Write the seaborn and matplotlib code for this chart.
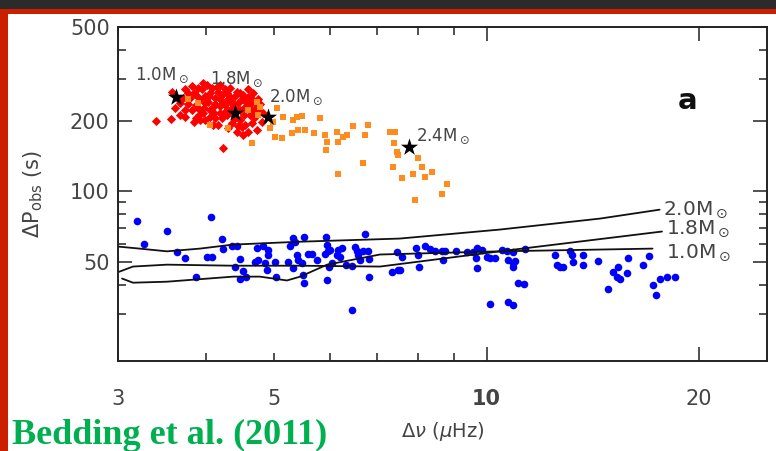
import matplotlib
matplotlib.use("Agg")
import numpy as np
import pandas as pd
import matplotlib.pyplot as plt
import seaborn as sns
from matplotlib.ticker import FixedLocator, FixedFormatter, NullFormatter
from matplotlib.patches import Rectangle

# ---------------- data ----------------
red_dnu = [3.40, 3.57, 3.58, 3.67, 3.73, 3.82, 3.84, 3.89, 3.92, 3.96, 4.01, 4.05, 4.09, 4.12,
           4.16, 4.19, 4.23, 4.26, 4.29, 4.33, 4.36, 4.37, 4.43, 4.47, 4.50, 4.52, 4.55, 4.58,
           4.62, 4.65, 4.67, 4.70, 4.73, 4.77, 4.80, 4.59, 4.43, 4.30, 4.05, 3.92, 3.77, 3.67,
           3.61, 4.15, 3.87, 3.98, 4.12, 4.23, 4.36, 4.47, 4.50, 4.65, 4.19, 3.84, 3.79, 3.87,
           3.90, 3.95, 3.98, 4.02, 4.05, 4.08, 4.12, 4.16, 4.22, 4.26, 4.30, 4.33, 4.36, 4.40,
           4.44, 4.47, 4.53, 4.56, 4.61, 4.64, 4.68, 4.71, 4.74, 3.92, 3.87, 3.77, 3.71, 3.99,
           4.09, 4.22, 4.28, 4.39, 4.44, 4.55, 4.77, 4.82, 4.59, 4.19, 3.96, 3.74, 3.65,
           3.82, 3.91, 3.97, 4.04, 4.11, 4.18, 4.25, 4.29, 4.34, 4.41, 4.52, 4.62, 4.70, 3.73]
red_dp = [200, 203, 265, 238, 207, 222, 198, 276, 246, 216, 284, 262, 229, 205,
          192, 246, 153, 272, 222, 252, 196, 238, 265, 201, 188, 174, 229, 252,
          212, 196, 262, 238, 183, 218, 198, 179, 179, 186, 207, 201, 262, 212,
          227, 278, 233, 238, 250, 238, 216, 222, 246, 222, 216, 262, 250, 257,
          227, 272, 255, 241, 222, 276, 236, 265, 257, 233, 246, 276, 227, 255,
          238, 262, 212, 241, 227, 250, 205, 227, 246, 222, 205, 236, 250, 201,
          192, 205, 212, 205, 190, 192, 236, 216, 272, 284, 289, 272, 246,
          281, 212, 227, 255, 216, 231, 218, 262, 241, 222, 257, 236, 216, 222]

orange_dnu = [3.77, 3.90, 4.05, 4.30, 4.58, 4.73, 4.74, 4.65, 4.93, 4.98, 5.04, 5.14, 5.13,
              5.31, 4.77, 5.01, 5.30, 5.38, 5.40, 5.47, 5.52, 5.70, 5.80, 5.90, 5.94, 5.92,
              6.13, 6.15, 6.25, 6.34, 6.15, 6.46, 6.68, 6.72, 6.79, 7.29, 7.41, 7.38, 7.46,
              7.48, 7.36, 7.99, 8.10, 8.36, 7.58, 7.86, 8.17, 8.78, 8.64, 7.92]
orange_dp = [246, 238, 192, 186, 222, 241, 212, 161, 186, 198, 227, 207, 169,
             201, 229, 171, 177, 207, 183, 209, 183, 177, 205, 174, 162, 150,
             179, 162, 171, 174, 118, 190, 132, 174, 192, 179, 179, 161, 147,
             143, 127, 139, 127, 121, 114, 118, 115, 107, 97, 92]

blue_dnu = [3.19, 3.27, 3.52, 3.64, 3.74, 3.87, 4.01, 4.08, 4.07, 4.22, 4.23, 4.36, 4.43, 4.40,
            4.47, 4.52, 4.47, 4.56, 4.70, 4.73, 4.74, 4.82, 4.85, 4.88, 4.90, 4.90, 5.01, 5.03,
            5.27, 5.23, 5.31, 5.31, 5.35, 5.38, 5.40, 5.47, 5.49, 5.51, 5.51, 5.58, 5.65, 5.74,
            5.92, 5.94, 5.94, 5.90, 5.96, 5.98, 6.04, 6.00, 6.13, 6.15, 6.19, 6.23, 6.32, 6.44,
            6.44, 6.50, 6.55, 6.57, 6.61, 6.72, 6.68, 6.79, 6.81, 6.81, 7.34, 7.46, 7.48, 7.53,
            7.58, 7.94, 7.99, 8.02, 8.17, 8.31, 8.44, 8.64, 8.72, 8.67, 9.04, 9.38, 9.56, 9.69,
            9.69, 9.66, 9.85, 10.01, 10.11, 10.27, 10.11, 10.51, 10.68, 10.72, 10.89, 10.89,
            10.89, 10.97, 11.07, 11.29, 10.72, 10.89, 11.33, 12.50, 12.58, 12.70, 12.83, 13.13,
            13.21, 13.25, 13.69, 13.69, 14.38, 14.85, 15.10, 15.35, 15.30, 15.45, 15.80, 15.85,
            16.65, 17.03, 17.20, 17.37, 17.60, 18.06, 18.48]
blue_dp = [75, 60, 68, 55, 52.3, 43.4, 52.8, 52.8, 78, 63, 57.1, 58.8, 58.8, 47.9,
           51.8, 46, 42.6, 43.4, 50.3, 57.6, 51.3, 58.8, 49.8, 46.4, 56.6, 53.9, 50.3, 43.4,
           58.8, 50.3, 63.6, 47.4, 61.1, 53.9, 51.3, 49.8, 44.2, 40.9, 64.2, 54.4, 54.4, 51.3,
           64.2, 59.4, 41.8, 54.4, 55.6, 47.9, 49.8, 56.6, 53.9, 56.6, 52.8, 57.6, 48.8, 48.3,
           31.2, 58.2, 56, 53.9, 51.3, 66.1, 55.6, 55.6, 51.8, 43.4, 45.5, 55, 46.4, 46.4,
           52.8, 57.6, 53.9, 47.9, 58.8, 57.1, 56, 55.6, 55.6, 51.3, 55.6, 55, 55, 57.6,
           47.4, 52.3, 56.6, 52.8, 52.3, 52.3, 33.3, 56.6, 55.6, 51.3, 55, 49.8,
           47.9, 50.8, 40.9, 40.5, 33.7, 32.8, 57.1, 53.9, 48.8, 47.9, 47.9, 56,
           53.9, 50.3, 53.9, 48.8, 50.8, 38.6, 45.5, 47.9, 43.4, 42.6, 45.1, 52.3,
           48.8, 53.3, 39.8, 36.4, 42.2, 43.4, 43.4]

star_dnu = [3.63, 4.40, 4.90, 7.76]
star_dp = [252, 216, 207, 155]
star_labels = ["1.0", "1.8", "2.0", "2.4"]

model_masses = ["2.0", "1.8", "1.0"]
m20_dnu = [3.01, 3.22, 3.52, 3.92, 4.37, 5.44, 7.53, 10.44, 14.48, 17.60]
m20_dp = [58.2, 57.1, 55.6, 57.1, 59.4, 61.1, 63.0, 68.8, 76.6, 83.6]
m18_dnu = [3.01, 3.15, 3.52, 4.37, 5.44, 7.06, 10.44, 17.74]
m18_dp = [45.5, 47.9, 48.8, 48.3, 48.3, 47.9, 55.6, 67.5]
m10_dnu = [3.04, 3.15, 3.52, 4.37, 4.77, 5.21, 5.44, 5.94, 7.06, 10.44, 17.20]
m10_dp = [42.6, 40.9, 41.3, 43.4, 43.4, 41.8, 43.4, 48.8, 53.9, 55.6, 57.1]

x_major = [10, 20]
x_minor = [3, 4, 5, 6, 7, 8, 9]
x_minor_labels = ["3", "", "5", "", "", "", ""]
y_major = [50, 100, 200, 500]
y_minor = [30, 40, 60, 70, 80, 90, 300, 400]

# ---------------- figure ----------------
sns.set_style("ticks")
plt.rcParams["font.family"] = ["DejaVu Sans"]
plt.rcParams["mathtext.fontset"] = "dejavusans"

W, H = 776, 451
fig = plt.figure(figsize=(W / 100, H / 100), dpi=100)
fig.patch.set_facecolor("white")
fig.patches.append(Rectangle((0, 1 - 9 / H), 1, 9 / H, transform=fig.transFigure,
                             facecolor="#2b2b2b", edgecolor="none", zorder=0))
fig.patches.append(Rectangle((0, 1 - 14 / H), 1, 5 / H, transform=fig.transFigure,
                             facecolor="#cc1f00", edgecolor="none", zorder=0))
fig.patches.append(Rectangle((0, 0), 8 / W, 1 - 9 / H, transform=fig.transFigure,
                             facecolor="#cc1f00", edgecolor="none", zorder=0))

ax = fig.add_axes([118 / W, 1 - 361 / H, (767 - 118) / W, (361 - 27) / H])
ax.set_xscale("log")
ax.set_yscale("log")

red_df = pd.DataFrame({"dnu": red_dnu, "dp": red_dp})
orange_df = pd.DataFrame({"dnu": orange_dnu, "dp": orange_dp})
blue_df = pd.DataFrame({"dnu": blue_dnu, "dp": blue_dp})

sns.scatterplot(data=red_df, x="dnu", y="dp", marker="D", color="#ff0000", s=22,
                linewidth=0, ax=ax, zorder=3)
sns.scatterplot(data=orange_df, x="dnu", y="dp", marker="s", color="#ff8c1e", s=16,
                linewidth=0, ax=ax, zorder=3)
sns.scatterplot(data=blue_df, x="dnu", y="dp", marker="o", color="#0000ff", s=30,
                linewidth=0, ax=ax, zorder=3)

for mx, my in [(m20_dnu, m20_dp), (m18_dnu, m18_dp), (m10_dnu, m10_dp)]:
    sns.lineplot(x=mx, y=my, color="#111111", linewidth=1.3, sort=False,
                 estimator=None, ax=ax, zorder=4)

sns.scatterplot(x=star_dnu, y=star_dp, marker="*", color="black", s=170,
                linewidth=0, ax=ax, zorder=5)

txt_col = "#444444"
# star labels
star_label_pos = [(3.17, 312), (4.05, 300), (4.92, 250), (7.94, 171)]
for lab, (tx, ty) in zip(star_labels, star_label_pos):
    ax.text(tx, ty, lab + r"M$_\odot$", fontsize=12, color=txt_col, ha="left", va="center",
            zorder=6)
# model labels
model_label_pos = [(17.8, 83.6), (18.0, 69.5), (18.0, 55.0)]
for lab, (tx, ty) in zip(model_masses, model_label_pos):
    ax.text(tx, ty, lab + r"M$_\odot$", fontsize=14.5, color=txt_col, ha="left", va="center",
            zorder=6)

ax.text(0.877, 0.778, "a", transform=ax.transAxes, fontsize=21, fontweight="bold",
        color="#111111", ha="center", va="center")

ax.set_xlim(3, 25)
ax.set_ylim(19, 500)

ax.xaxis.set_major_locator(FixedLocator(x_major))
ax.xaxis.set_major_formatter(FixedFormatter([str(v) for v in x_major]))
ax.xaxis.set_minor_locator(FixedLocator(x_minor))
ax.xaxis.set_minor_formatter(FixedFormatter(x_minor_labels))
ax.yaxis.set_major_locator(FixedLocator(y_major))
ax.yaxis.set_major_formatter(FixedFormatter([str(v) for v in y_major]))
ax.yaxis.set_minor_locator(FixedLocator(y_minor))
ax.yaxis.set_minor_formatter(NullFormatter())

ax.tick_params(which="both", direction="in", top=True, right=True, color="#222222",
               width=1.1, labelsize=15, labelcolor=txt_col)
ax.tick_params(which="major", length=10)
ax.tick_params(which="minor", length=6)
ax.tick_params(axis="x", which="both", pad=20)
ax.tick_params(axis="y", which="both", pad=6)
for t in ax.xaxis.get_major_ticks():
    t.label1.set_fontweight("bold")
    break

for sp in ax.spines.values():
    sp.set_color("#222222")
    sp.set_linewidth(1.4)

ax.set_xlabel(r"$\Delta\nu$ ($\mu$Hz)", fontsize=14, color=txt_col)
ax.set_ylabel(r"$\Delta$P$_{\rm obs}$ (s)", fontsize=15, color=txt_col)
ax.xaxis.set_label_coords(0.5, (361 - 420) / 334)
ax.yaxis.set_label_coords((45 - 118) / 649, 0.5)

fig.text(12 / W, 7 / H, "Bedding et al. (2011)", fontsize=26, fontweight="bold",
         family=["Liberation Serif", "DejaVu Serif"], color="#00b050", ha="left",
         va="baseline")

fig.savefig("out.png", dpi=100, facecolor=fig.get_facecolor())
